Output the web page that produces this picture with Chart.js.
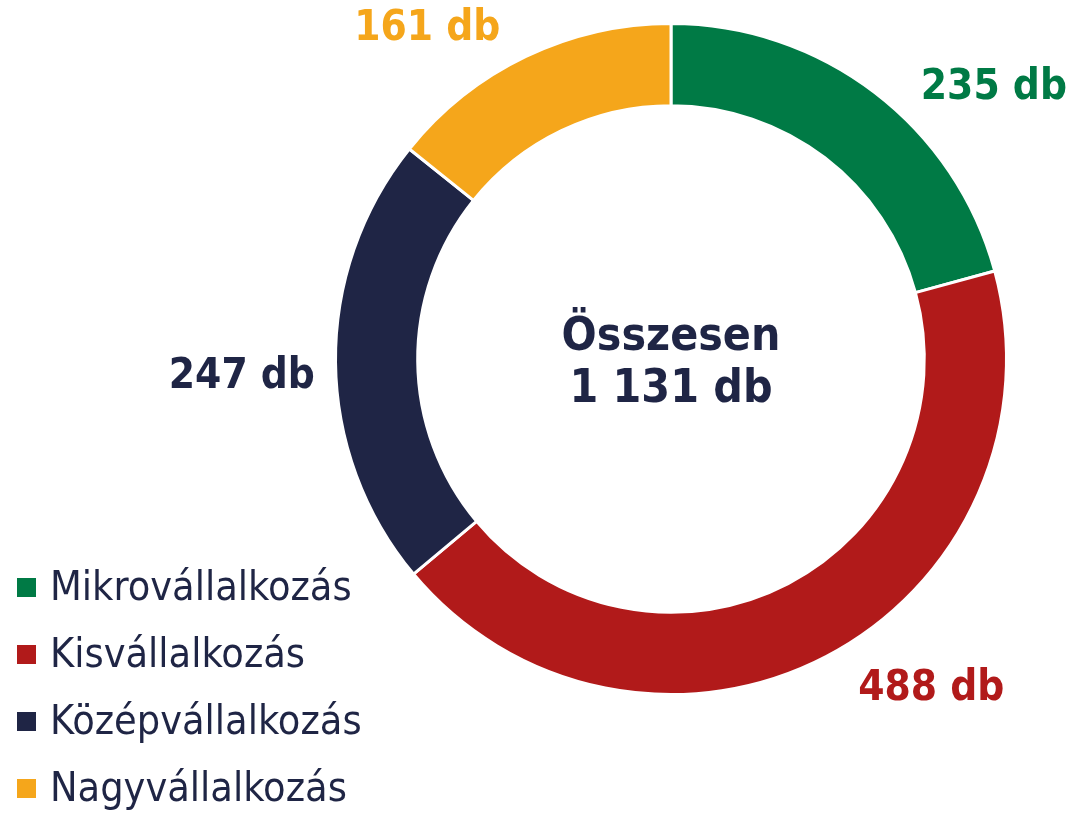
<!DOCTYPE html>
<html lang="hu">
<head>
<meta charset="utf-8">
<script src="https://cdn.jsdelivr.net/npm/chart.js@4"></script>
<style>
  html, body { margin: 0; padding: 0; background: #fff; }
  #wrap { position: relative; width: 1074px; height: 813px; }
</style>
</head>
<body>
<div id="wrap"><canvas id="cegChart"></canvas></div>
<script>
// Chart data
const categories = ['Mikrovállalkozás', 'Kisvállalkozás', 'Középvállalkozás', 'Nagyvállalkozás'];
const counts = [235, 488, 247, 161];
const unit = 'db';
const centerTitle = 'Összesen';

// Styling
const colors = ['#007A45', '#B11A1A', '#1F2545', '#F5A61B'];
const textNavy = '#1F2545';
const fontFamily = "'DejaVu Sans Condensed', 'DejaVu Sans', sans-serif";
// label placement: angle shift (deg) from slice middle, distance beyond outer edge (px)
const labelShift = [12.6, -10.7, -1.8, -10.8];
const labelGap = [86, 85, 94, 75];

function formatNum(n) {
    return String(n).replace(/\B(?=(\d{3})+(?!\d))/g, ' ');
}

// Draws value labels, centre total and the legend
const annotate = {
    id: 'annotate',
    afterDraw(chart) {
        const ctx = chart.ctx;
        const arcs = chart.getDatasetMeta(0).data;
        ctx.save();

        // slice labels
        ctx.font = 'bold 42px ' + fontFamily;
        ctx.textAlign = 'center';
        ctx.textBaseline = 'middle';
        arcs.forEach((arc, i) => {
            const mid = (arc.startAngle + arc.endAngle) / 2 + labelShift[i] * Math.PI / 180;
            const r = arc.outerRadius + labelGap[i];
            ctx.fillStyle = colors[i];
            ctx.fillText(counts[i] + ' ' + unit, arc.x + Math.cos(mid) * r, arc.y + Math.sin(mid) * r);
        });

        // centre total
        const cx = arcs[0].x, cy = arcs[0].y;
        const total = counts.reduce((a, b) => a + b, 0);
        ctx.fillStyle = textNavy;
        ctx.font = 'bold 46px ' + fontFamily;
        ctx.fillText(centerTitle, cx, cy - 21);
        ctx.fillText(formatNum(total) + ' ' + unit, cx, cy + 31);

        // legend
        ctx.textAlign = 'left';
        ctx.font = '41px ' + fontFamily;
        categories.forEach((name, i) => {
            const y = 588 + i * 67;
            ctx.fillStyle = colors[i];
            ctx.fillRect(17, y - 10, 19, 19);
            ctx.fillStyle = textNavy;
            ctx.fillText(name, 50, y + 1);
        });
        ctx.restore();
    }
};

new Chart(document.getElementById('cegChart'), {
    type: 'doughnut',
    data: {
        labels: categories,
        datasets: [{
            data: counts,
            backgroundColor: colors,
            borderColor: '#ffffff',
            borderWidth: 3
        }]
    },
    options: {
        responsive: true,
        maintainAspectRatio: false,
        animation: false,
        cutout: '75.5%',
        layout: { padding: { left: 334, right: 66, top: 22, bottom: 117 } },
        plugins: {
            legend: { display: false },
            tooltip: { enabled: false }
        }
    },
    plugins: [annotate]
});
</script>
</body>
</html>
